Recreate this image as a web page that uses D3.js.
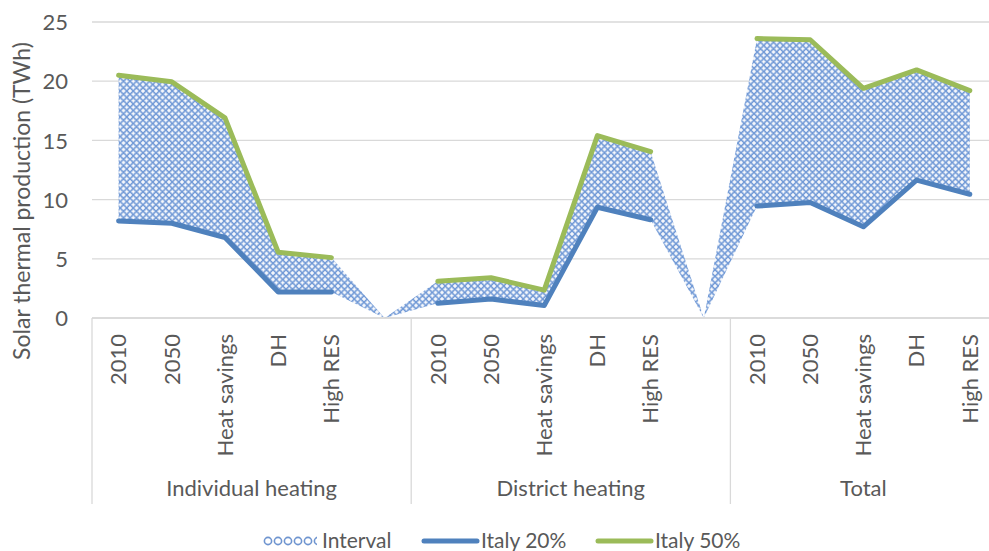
<!DOCTYPE html>
<html>
<head>
<meta charset="utf-8">
<script src="https://cdn.jsdelivr.net/npm/d3@7"></script>
<style>
  html, body { margin: 0; padding: 0; background: #fff; }
  svg { display: block; }
  text { font-family: Lato, "Open Sans", sans-serif; fill: #595959; }
</style>
</head>
<body>
<svg id="chart" width="989" height="551"></svg>
<script>
// Solar thermal production per scenario, grouped by heating type
const groups = ["Individual heating", "District heating", "Total"];
const groupSizes = [6, 6, 5];
const categories = [
  "2010", "2050", "Heat savings", "DH", "High RES", "",
  "2010", "2050", "Heat savings", "DH", "High RES", "",
  "2010", "2050", "Heat savings", "DH", "High RES"
];
const italy20 = [8.2, 8.0, 6.8, 2.2, 2.2, null,
                 1.25, 1.6, 1.05, 9.35, 8.3, null,
                 9.45, 9.75, 7.7, 11.65, 10.45];
const italy50 = [20.5, 19.95, 16.9, 5.55, 5.1, null,
                 3.1, 3.4, 2.35, 15.4, 14.05, null,
                 23.6, 23.5, 19.4, 20.95, 19.2];
const yTicks = [0, 5, 10, 15, 20, 25];
const seriesNames = ["Interval", "Italy 20%", "Italy 50%"];

const svg = d3.select("#chart");
const W = 989;
const plotLeft = 92, plotTop = 22, plotBottom = 318;
const bandW = 53.2;

const keys = categories.map((c, i) => i);
const x = d3.scaleBand().domain(keys).range([plotLeft, plotLeft + bandW * keys.length]);
const y = d3.scaleLinear().domain([0, 25]).range([plotBottom, plotTop]);
const cx = i => x(i) + x.bandwidth() / 2;

// Diamond lattice fill for the interval band
const defs = svg.append("defs");
const P = 6.5;
const pat = defs.append("pattern")
  .attr("id", "lattice").attr("patternUnits", "userSpaceOnUse")
  .attr("width", P).attr("height", P);
pat.append("rect").attr("width", P).attr("height", P).attr("fill", "#6f98d6");
const plus = (g, px, py) => {
  g.append("rect").attr("x", px - 0.7).attr("y", py - 1.9).attr("width", 1.4).attr("height", 3.8).attr("fill", "#fff");
  g.append("rect").attr("x", px - 1.9).attr("y", py - 0.7).attr("width", 3.8).attr("height", 1.4).attr("fill", "#fff");
};
plus(pat, P / 2, P / 2);
[[0, 0], [P, 0], [0, P], [P, P]].forEach(([a, b]) => plus(pat, a, b));

const legPat = defs.append("pattern")
  .attr("id", "latticeLegend").attr("patternUnits", "userSpaceOnUse")
  .attr("width", 10).attr("height", 10).attr("x", 263).attr("y", 536);
legPat.append("rect").attr("width", 10).attr("height", 10).attr("fill", "#fff");
legPat.append("circle").attr("cx", 5).attr("cy", 5).attr("r", 3.6)
  .attr("fill", "none").attr("stroke", "#6f95d0").attr("stroke-width", 1.6);

// Horizontal gridlines
svg.append("g").selectAll("line").data(yTicks).join("line")
  .attr("x1", plotLeft).attr("x2", W)
  .attr("y1", d => y(d)).attr("y2", d => y(d))
  .attr("stroke", "#d9d9d9").attr("stroke-width", 1.3);

// Y axis tick labels
const yAxis = d3.axisLeft(y).tickValues(yTicks).tickSize(0).tickPadding(0);
const gy = svg.append("g").attr("transform", `translate(68,0)`).call(yAxis);
gy.select(".domain").remove();
gy.selectAll("text").style("font-size", "22px").attr("fill", "#595959")
  .style("font-family", "Lato, sans-serif").attr("dy", "0.35em");

// Y axis title
svg.append("text")
  .attr("transform", `translate(30,201) rotate(-90)`)
  .attr("text-anchor", "middle")
  .style("font-size", "23px")
  .text("Solar thermal production (TWh)");

// Interval band between the two scenarios (blank slots fall to zero)
const area = d3.area()
  .x((d, i) => cx(i))
  .y0((d, i) => y(italy20[i] ?? 0))
  .y1((d, i) => y(italy50[i] ?? 0));
svg.append("path").datum(keys).attr("d", area).attr("fill", "url(#lattice)");

// Scenario lines
const line = vals => d3.line()
  .defined((d, i) => vals[i] != null)
  .x((d, i) => cx(i))
  .y((d, i) => y(vals[i]))(keys);
svg.append("path").attr("d", line(italy20)).attr("fill", "none")
  .attr("stroke", "#4f81bd").attr("stroke-width", 5)
  .attr("stroke-linecap", "round").attr("stroke-linejoin", "round");
svg.append("path").attr("d", line(italy50)).attr("fill", "none")
  .attr("stroke", "#9bbb59").attr("stroke-width", 5)
  .attr("stroke-linecap", "round").attr("stroke-linejoin", "round");

// Category axis with grouped labels
svg.append("line").attr("x1", plotLeft).attr("x2", W).attr("y1", plotBottom).attr("y2", plotBottom)
  .attr("stroke", "#d9d9d9").attr("stroke-width", 1.3);

const xAxis = d3.axisBottom(x).tickSize(0).tickPadding(0).tickFormat(i => categories[i]);
const gx = svg.append("g").attr("transform", `translate(0,${plotBottom})`).call(xAxis);
gx.select(".domain").remove();
gx.selectAll("text")
  .attr("transform", "rotate(-90)")
  .attr("x", -16).attr("y", 0).attr("dy", "0.35em")
  .attr("text-anchor", "end")
  .style("font-size", "22px").attr("fill", "#595959")
  .style("font-family", "Lato, sans-serif");

let start = 0;
const bounds = [plotLeft];
groups.forEach((g, k) => {
  const end = start + groupSizes[k];
  const x0 = x(start), x1 = x(end - 1) + x.bandwidth();
  bounds.push(x1);
  svg.append("text").attr("x", (x0 + x1) / 2).attr("y", 496)
    .attr("text-anchor", "middle").style("font-size", "22px").text(g);
  start = end;
});
svg.append("g").selectAll("line").data(bounds.slice(0, 3)).join("line")
  .attr("x1", d => d).attr("x2", d => d)
  .attr("y1", plotBottom).attr("y2", 504)
  .attr("stroke", "#d9d9d9").attr("stroke-width", 1.3);

// Legend
const ly = 541;
const leg = svg.append("g");
leg.append("rect").attr("x", 263).attr("y", ly - 5).attr("width", 54).attr("height", 10)
  .attr("fill", "url(#latticeLegend)");
leg.append("text").attr("x", 322).attr("y", ly).attr("dy", "0.35em").style("font-size", "21px").text(seriesNames[0]);
leg.append("line").attr("x1", 424).attr("x2", 477).attr("y1", ly).attr("y2", ly)
  .attr("stroke", "#4f81bd").attr("stroke-width", 5).attr("stroke-linecap", "round");
leg.append("text").attr("x", 481).attr("y", ly).attr("dy", "0.35em").style("font-size", "21px").text(seriesNames[1]);
leg.append("line").attr("x1", 598).attr("x2", 651).attr("y1", ly).attr("y2", ly)
  .attr("stroke", "#9bbb59").attr("stroke-width", 5).attr("stroke-linecap", "round");
leg.append("text").attr("x", 655).attr("y", ly).attr("dy", "0.35em").style("font-size", "21px").text(seriesNames[2]);
</script>
</body>
</html>
